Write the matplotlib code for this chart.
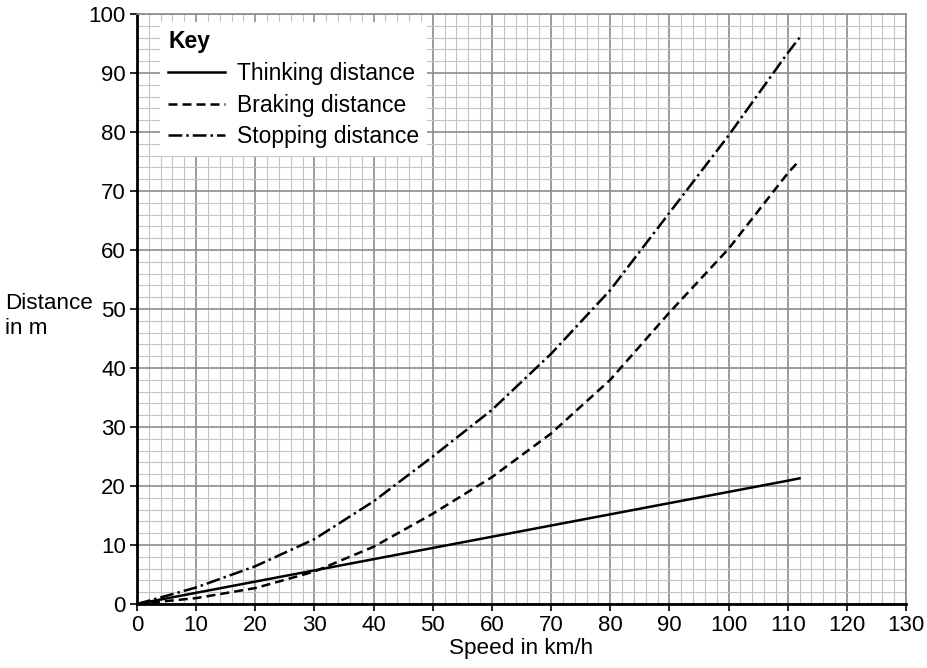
import matplotlib
matplotlib.use("Agg")
import matplotlib.pyplot as plt
from matplotlib.ticker import MultipleLocator

plt.rcParams['font.family'] = ['Liberation Sans', 'DejaVu Sans']

# values
speed = [0, 10, 20, 30, 40, 50, 60, 70, 80, 90, 100, 110, 112]
thinking = [0, 1.9, 3.8, 5.7, 7.6, 9.5, 11.4, 13.3, 15.2, 17.1, 19.0, 20.9, 21.3]
braking = [0, 1.0, 2.7, 5.5, 9.7, 15.3, 21.5, 28.9, 38.0, 49.4, 60.2, 73.0, 75.2]
stopping = [0, 2.8, 6.4, 11.0, 17.4, 25.0, 32.9, 42.4, 53.2, 66.3, 79.4, 93.4, 96.0]

fig = plt.figure(figsize=(9.28, 6.68), dpi=100)
ax = fig.add_axes([0.1476, 0.0958, 0.8287, 0.8832])

ax.plot(speed, thinking, color='black', lw=1.8, label='Thinking distance')
ax.plot(speed, braking, color='black', lw=1.8, linestyle=(0, (3.6, 2.0)), label='Braking distance')
ax.plot(speed, stopping, color='black', lw=1.8, linestyle=(0, (5.5, 1.6, 1, 1.6)), label='Stopping distance')

ax.set_xlim(0, 130)
ax.set_ylim(0, 100)
ax.xaxis.set_major_locator(MultipleLocator(10))
ax.yaxis.set_major_locator(MultipleLocator(10))
ax.xaxis.set_minor_locator(MultipleLocator(2))
ax.yaxis.set_minor_locator(MultipleLocator(2))
ax.grid(which='major', color='#8c8c8c', lw=1.2)
ax.grid(which='minor', color='#c4c4c4', lw=0.8)
ax.set_axisbelow(True)

ax.tick_params(which='major', direction='out', length=5, width=1.2, labelsize=16, pad=3)
ax.tick_params(which='minor', length=0)

for side in ['top', 'right']:
    ax.spines[side].set_color('#8c8c8c')
    ax.spines[side].set_linewidth(1.2)
for side in ['left', 'bottom']:
    ax.spines[side].set_color('black')
    ax.spines[side].set_linewidth(2)

ax.set_xlabel('Speed in km/h', fontsize=16.2, labelpad=1)
ax.set_ylabel('Distance\nin m', fontsize=16.2, rotation=0, ha='left', va='center')
ax.yaxis.set_label_coords(-0.172, 0.488)

leg = ax.legend(loc='upper left', bbox_to_anchor=(0.03, 0.986), title='Key',
                fontsize=16.5, frameon=True, fancybox=False, framealpha=1,
                edgecolor='none', facecolor='white', handlelength=2.5,
                handletextpad=0.5, labelspacing=0.38, borderpad=0.35,
                borderaxespad=0, alignment='left')
leg.get_title().set_fontsize(16.5)
leg.get_title().set_fontweight('bold')

fig.savefig('out.png', dpi=100)
